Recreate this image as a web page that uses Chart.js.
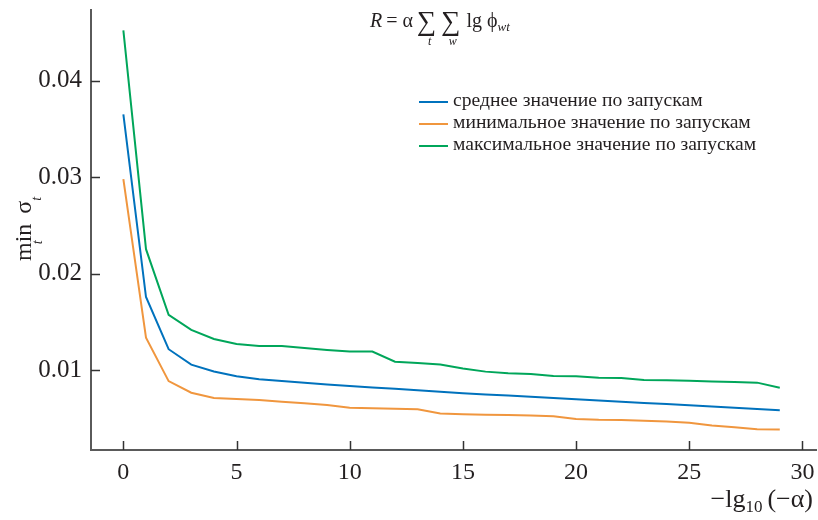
<!DOCTYPE html>
<html lang="ru">
<head>
  <meta charset="UTF-8">
  <title>min sigma vs -lg10(-alpha)</title>
  <script src="https://cdn.jsdelivr.net/npm/chart.js"></script>
  <style>
    body {
      margin: 0;
      background: #fff;
    }
    canvas {
      display: block;
    }
  </style>
</head>
<body>
  <canvas id="myChart" width="818" height="520"></canvas>

  <script>
    // data
    const xValues = [0, 1, 2, 3, 4, 5, 6, 7, 8, 9, 10, 11, 12, 13, 14, 15, 16, 17, 18, 19, 20, 21, 22, 23, 24, 25, 26, 27, 28, 29];
    const meanValues = [0.0365, 0.0176, 0.0122, 0.0106, 0.0099, 0.0094, 0.0091, 0.0089, 0.00872, 0.00856,
      0.0084, 0.00825, 0.0081, 0.00795, 0.0078, 0.00765, 0.00752, 0.0074, 0.00727, 0.00715,
      0.00702, 0.0069, 0.00677, 0.00664, 0.00652, 0.0064, 0.00627, 0.00614, 0.00601, 0.00588];
    const minValues = [0.0298, 0.0134, 0.0089, 0.0077, 0.00715, 0.00705, 0.00695, 0.00677, 0.0066, 0.00643,
      0.00615, 0.0061, 0.00603, 0.00598, 0.00555, 0.00548, 0.00543, 0.00538, 0.00533, 0.00526,
      0.00498, 0.0049, 0.00488, 0.0048, 0.00472, 0.0046, 0.0043, 0.00412, 0.00391, 0.0039];
    const maxValues = [0.0452, 0.02255, 0.01575, 0.0142, 0.01326, 0.01274, 0.01254, 0.01254, 0.01233, 0.01212,
      0.01195, 0.01195, 0.01091, 0.01078, 0.01062, 0.0102, 0.00988, 0.00971, 0.00964, 0.00944,
      0.0094, 0.00925, 0.00922, 0.00902, 0.009, 0.00893, 0.00885, 0.0088, 0.00874, 0.00822];
    const seriesLabels = [
      'среднее значение по запускам',
      'минимальное значение по запускам',
      'максимальное значение по запускам'
    ];
    const seriesColors = ['#0072bd', '#f0963e', '#00a65a'];

    const SERIF = "'Liberation Serif', 'DejaVu Serif', serif";
    const INK = '#231f20';

    function points(ys) {
      return xValues.map((x, i) => ({ x: x, y: ys[i] }));
    }

    // inward tick marks, titles, formula and legend
    const overlay = {
      id: 'overlay',
      afterDraw(chart) {
        const ctx = chart.ctx;
        const xs = chart.scales.x, ys = chart.scales.y;
        const a = chart.chartArea;
        ctx.save();

        ctx.strokeStyle = '#333';
        ctx.lineWidth = 1.5;
        xs.ticks.forEach(t => {
          const px = Math.round(xs.getPixelForValue(t.value)) + 0.5;
          ctx.beginPath();
          ctx.moveTo(px, a.bottom);
          ctx.lineTo(px, a.bottom - 9);
          ctx.stroke();
        });
        ys.ticks.forEach(t => {
          const py = Math.round(ys.getPixelForValue(t.value)) + 0.5;
          ctx.beginPath();
          ctx.moveTo(a.left, py);
          ctx.lineTo(a.left + 9, py);
          ctx.stroke();
        });

        ctx.fillStyle = INK;
        ctx.textBaseline = 'alphabetic';

        // y title: min_t σ_t (rotated)
        ctx.save();
        ctx.rotate(-Math.PI / 2);
        ctx.textAlign = 'left';
        ctx.font = '24px ' + SERIF;
        let u = -261;
        ctx.fillText('min', u, 31);
        const wMin = ctx.measureText('min').width;
        ctx.font = 'italic 14px ' + SERIF;
        ctx.textAlign = 'center';
        ctx.fillText('t', u + wMin / 2, 42);
        ctx.textAlign = 'left';
        u += wMin + 10;
        ctx.font = '24px ' + SERIF;
        ctx.fillText('σ', u, 31);
        u += ctx.measureText('σ').width;
        ctx.font = 'italic 14px ' + SERIF;
        ctx.fillText('t', u, 41);
        ctx.restore();

        // x title: −lg10 (−α), right aligned near the canvas edge
        ctx.textAlign = 'left';
        ctx.font = '26px ' + SERIF;
        const w1 = ctx.measureText('−lg').width, w3 = ctx.measureText('(−α)').width;
        ctx.font = '17px ' + SERIF;
        const w2 = ctx.measureText('10').width;
        let x = 813 - (w1 + w2 + 5 + w3);
        ctx.font = '26px ' + SERIF;
        ctx.fillText('−lg', x, 507);
        x += w1;
        ctx.font = '17px ' + SERIF;
        ctx.fillText('10', x, 512);
        x += w2 + 5;
        ctx.font = '26px ' + SERIF;
        ctx.fillText('(−α)', x, 507);

        // formula at the top
        x = 370;
        const base = 27;
        ctx.font = 'italic 20px ' + SERIF;
        ctx.fillText('R', x, base);
        x += ctx.measureText('R').width + 4;
        ctx.font = '20px ' + SERIF;
        ctx.fillText('= α', x, base);
        x += ctx.measureText('= α').width + 4;
        ctx.font = '27px ' + SERIF;
        const wSig = ctx.measureText('∑').width;
        ctx.fillText('∑', x, base + 3);
        ctx.font = 'italic 12px ' + SERIF;
        ctx.textAlign = 'center';
        ctx.fillText('t', x + wSig / 2 + 3, 45);
        ctx.textAlign = 'left';
        x += wSig + 5;
        ctx.font = '27px ' + SERIF;
        ctx.fillText('∑', x, base + 3);
        ctx.font = 'italic 12px ' + SERIF;
        ctx.textAlign = 'center';
        ctx.fillText('w', x + wSig / 2 + 2, 45);
        ctx.textAlign = 'left';
        x += wSig + 6;
        ctx.font = '20px ' + SERIF;
        ctx.fillText('lg ϕ', x, base);
        x += ctx.measureText('lg ϕ').width;
        ctx.font = 'italic 13px ' + SERIF;
        ctx.fillText('wt', x, base + 4);

        // legend
        ctx.font = '19.6px ' + SERIF;
        ctx.textBaseline = 'middle';
        ctx.lineWidth = 2;
        seriesLabels.forEach((label, i) => {
          const ly = 102 + i * 22;
          ctx.strokeStyle = seriesColors[i];
          ctx.beginPath();
          ctx.moveTo(419, ly);
          ctx.lineTo(448, ly);
          ctx.stroke();
          ctx.fillText(label, 453, ly - 1);
        });

        ctx.restore();
      }
    };

    Chart.defaults.font.family = SERIF;

    const chart = new Chart(document.getElementById('myChart'), {
      type: 'line',
      data: {
        datasets: [
          { label: seriesLabels[0], data: points(meanValues), borderColor: seriesColors[0] },
          { label: seriesLabels[1], data: points(minValues), borderColor: seriesColors[1] },
          { label: seriesLabels[2], data: points(maxValues), borderColor: seriesColors[2] }
        ].map(d => Object.assign(d, { borderWidth: 2, pointRadius: 0, tension: 0, fill: false }))
      },
      options: {
        responsive: false,
        animation: false,
        layout: { padding: { top: 10, right: 2, left: 0, bottom: 0 } },
        plugins: {
          legend: { display: false },
          tooltip: { enabled: false }
        },
        scales: {
          x: {
            type: 'linear',
            min: -1.43,
            max: 30.6,
            grid: { display: false, drawTicks: false },
            border: { display: true, color: '#5a5a5a', width: 2 },
            ticks: {
              stepSize: 5,
              includeBounds: false,
              padding: 8,
              maxRotation: 0,
              color: INK,
              font: { size: 24, family: SERIF }
            },
            afterFit(scale) {
              scale.height = 70;
              scale.paddingLeft = 0;
              scale.paddingRight = 0;
            }
          },
          y: {
            min: 0.00177,
            max: 0.0473,
            grid: { display: false, drawTicks: false },
            border: { display: true, color: '#5a5a5a', width: 2 },
            ticks: {
              stepSize: 0.01,
              includeBounds: false,
              padding: 9,
              color: INK,
              font: { size: 25, family: SERIF },
              callback: v => v.toFixed(2)
            },
            afterFit(scale) {
              scale.width = 91;
              scale.paddingTop = 0;
              scale.paddingBottom = 0;
            }
          }
        }
      },
      plugins: [overlay]
    });
  </script>
</body>
</html>
